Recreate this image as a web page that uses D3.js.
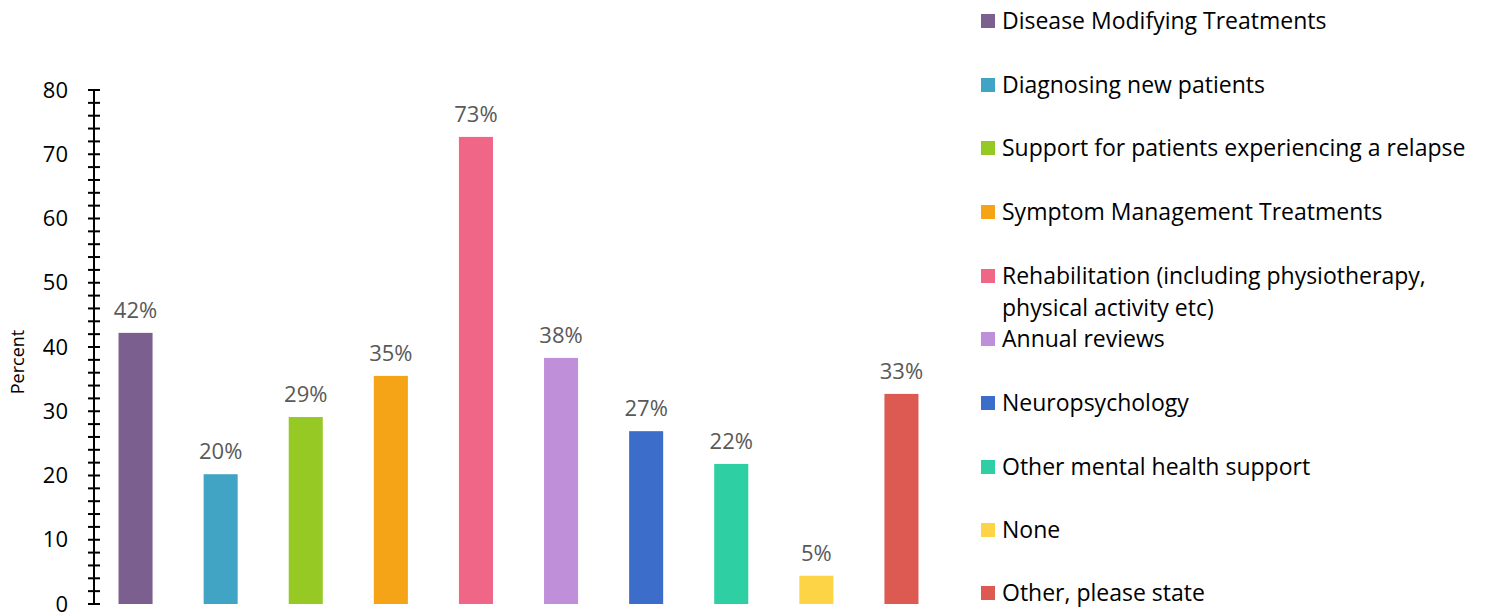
<!DOCTYPE html>
<html><head><meta charset="utf-8">
<script src="https://cdn.jsdelivr.net/npm/d3@7"></script>
<style>
body{margin:0;background:#fff;}
text{font-family:"Open Sans","Noto Sans",sans-serif;}
</style></head>
<body>
<svg id="chart" width="1489" height="612"></svg>
<script>
const categories = ["Disease Modifying Treatments","Diagnosing new patients","Support for patients experiencing a relapse","Symptom Management Treatments","Rehabilitation (including physiotherapy, physical activity etc)","Annual reviews","Neuropsychology","Other mental health support","None","Other, please state"];
const legendLines = [["Disease Modifying Treatments"],["Diagnosing new patients"],["Support for patients experiencing a relapse"],["Symptom Management Treatments"],["Rehabilitation (including physiotherapy,","physical activity etc)"],["Annual reviews"],["Neuropsychology"],["Other mental health support"],["None"],["Other, please state"]];
const values = [42.2, 20.2, 29.1, 35.5, 72.7, 38.3, 26.9, 21.8, 4.4, 32.7];
const labels = ["42%","20%","29%","35%","73%","38%","27%","22%","5%","33%"];
const colors = ["#7B5F8F","#42A4C4","#97C924","#F5A418","#EF6686","#BF8FD9","#3D6DCB","#2DCFA3","#FDD446","#DC5A52"];
const majorTicks = [0,10,20,30,40,50,60,70,80];

const svg = d3.select("#chart");
const y = d3.scaleLinear().domain([0,80]).range([604,90]);
const x = d3.scaleBand().domain(categories).range([93,944]).paddingInner(0.6).paddingOuter(0.3);

// axis
const minor = d3.range(0,81,2);
const ax = svg.append("g").attr("transform","translate(94,0)");
ax.append("line").attr("x1",0).attr("x2",0).attr("y1",y(0)).attr("y2",y(80)).attr("stroke","#000").attr("stroke-width",2);
ax.selectAll(".tk").data(minor).enter().append("line")
  .attr("x1",-6).attr("x2",6).attr("y1",d=>y(d)).attr("y2",d=>y(d)).attr("stroke","#000").attr("stroke-width",2);
ax.selectAll(".lb").data(majorTicks).enter().append("text")
  .attr("x",-26).attr("y",d=>y(d)).attr("dy","0.35em").attr("text-anchor","end")
  .attr("font-size",22).attr("fill","#000").text(d=>d);

svg.append("text").attr("transform","translate(24,362) rotate(-90)").attr("text-anchor","middle")
  .attr("font-size",18).attr("fill","#000").text("Percent");

// bars
svg.selectAll(".bar").data(values).enter().append("rect")
  .attr("x",(d,i)=>x(categories[i])).attr("width",x.bandwidth())
  .attr("y",d=>y(d)).attr("height",d=>y(0)-y(d)).attr("fill",(d,i)=>colors[i]);
svg.selectAll(".vl").data(values).enter().append("text")
  .attr("x",(d,i)=>x(categories[i])+x.bandwidth()/2).attr("y",d=>y(d)-15)
  .attr("text-anchor","middle").attr("font-size",22).attr("fill","#595959").text((d,i)=>labels[i]);

// legend
const lg = svg.append("g");
const rowY = [21,85,148,212,276,339,403,467,530,593];
legendLines.forEach((lines,i)=>{
  lg.append("rect").attr("x",981).attr("y",rowY[i]-7).attr("width",14).attr("height",14).attr("fill",colors[i]);
  lines.forEach((t,j)=>{
    lg.append("text").attr("x",1002).attr("y",rowY[i]+j*32).attr("dy","0.35em")
      .attr("font-size",23).attr("fill","#000").text(t);
  });
});
</script>
</body></html>
